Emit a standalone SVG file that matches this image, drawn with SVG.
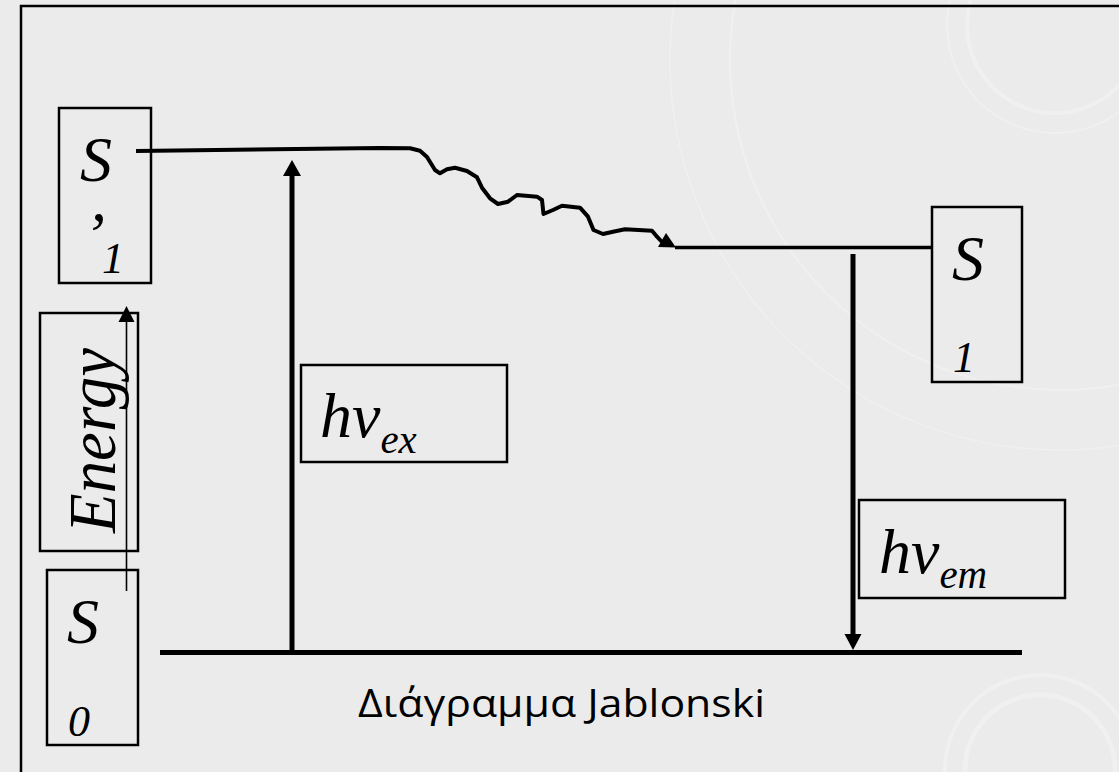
<svg xmlns="http://www.w3.org/2000/svg" width="1119" height="772" viewBox="0 0 1119 772">
  <defs>
    <style>
      .box { fill: none; stroke: #000; stroke-width: 2.5; }
      .sym { font-family: "Liberation Serif", "Times New Roman", serif; font-style: italic; fill: #000; }
      .big { font-size: 64px; }
      .idx { font-size: 44px; }
      .sub { font-size: 41px; }
      .level { fill: none; stroke: #000; stroke-linecap: butt; }
      .head { fill: #000; stroke: none; }
      .wm { fill: none; stroke: #ffffff; stroke-opacity: 0.25; }
    </style>
  </defs>

  <!-- page background and faint decorative rings -->
  <rect x="0" y="0" width="1119" height="772" fill="#ebebeb"/>
  <g id="watermark">
    <circle class="wm" cx="1055" cy="25" r="88" stroke-width="4"/>
    <circle class="wm" cx="1055" cy="25" r="108" stroke-width="2"/>
    <circle class="wm" cx="1040" cy="770" r="75" stroke-width="5"/>
    <circle class="wm" cx="1040" cy="770" r="95" stroke-width="4"/>
    <circle class="wm" cx="1060" cy="60" r="330" stroke-width="2"/>
    <circle class="wm" cx="1060" cy="60" r="390" stroke-width="1.5"/>
  </g>

  <!-- outer frame -->
  <rect x="21" y="6" width="1120" height="790" fill="none" stroke="#000" stroke-width="2.5"/>

  <!-- state boxes -->
  <g id="s1-prime">
    <rect class="box" x="59" y="108" width="92" height="175"/>
    <text class="sym big" x="80" y="181">S</text>
    <text class="sym big" x="91" y="221">,</text>
    <text class="sym idx" x="102" y="273">1</text>
  </g>

  <g id="energy">
    <rect class="box" x="40" y="313" width="98" height="238"/>
    <text class="sym" font-size="68" x="115" y="533" textLength="185" lengthAdjust="spacingAndGlyphs" transform="rotate(-90 115 533)">Energy</text>
  </g>

  <g id="s0">
    <rect class="box" x="47" y="570" width="91" height="175"/>
    <text class="sym big" x="67" y="643">S</text>
    <text class="sym idx" x="68" y="736">0</text>
  </g>

  <g id="s1">
    <rect class="box" x="932" y="207" width="90" height="175"/>
    <text class="sym big" x="952" y="280">S</text>
    <text class="sym idx" x="953" y="372">1</text>
  </g>

  <g id="hv-ex">
    <rect class="box" x="301" y="365" width="206" height="97"/>
    <text class="sym" font-size="64" x="320" y="437">hv<tspan class="sub" dy="16">ex</tspan></text>
  </g>

  <g id="hv-em">
    <rect class="box" x="859" y="500" width="206" height="98"/>
    <text class="sym" font-size="64" x="879" y="573">hv<tspan class="sub" dy="15">em</tspan></text>
  </g>

  <!-- energy levels and transitions -->
  <g id="connectors">
    <!-- energy axis -->
    <line x1="126.5" y1="591" x2="126.5" y2="320" stroke="#000" stroke-width="1.6"/>
    <polygon class="head" points="118.5,322 134.5,322 126.5,306"/>

    <!-- ground state S0 -->
    <line class="level" x1="160" y1="652.5" x2="1022" y2="652.5" stroke-width="5"/>

    <!-- excited level S'1 and vibrational relaxation -->
    <path class="level" stroke-width="4" stroke-linejoin="round" stroke-linecap="round"
          d="M136,151 L380,148 L410,148.3 L420,150.7 L427,157 L435,170 L440,173.3 L447,169.3 L455,167.7 L467,171 L477,177.3 L482,187.7 L490,198.3 L498,204 L508,201.7 L517,195 L537,196.7 L542,200 L543.5,214 L553,210 L562,205.7 L580,207.7 L588,216.7 L593.5,230 L603,234 L613,231.7 L625,229.3 L652,230.7 L657,236.7 L662,242"/>
    <polygon class="head" points="658,247 676,247.5 666,233"/>

    <!-- relaxed level S1 -->
    <line class="level" x1="675" y1="247.5" x2="932" y2="247.5" stroke-width="3.5"/>

    <!-- absorption -->
    <line x1="292" y1="655" x2="292" y2="174" stroke="#000" stroke-width="5"/>
    <polygon class="head" points="283,176 301,176 292,160"/>

    <!-- emission -->
    <line x1="853" y1="254" x2="853" y2="636" stroke="#000" stroke-width="5"/>
    <polygon class="head" points="844.5,634 861.5,634 853,650"/>
  </g>

  <!-- caption -->
  <text id="caption" x="358" y="717" font-family="'Open Sans', 'Noto Sans', sans-serif" font-size="38" textLength="407" lengthAdjust="spacingAndGlyphs" fill="#000">Διάγραμμα Jablonski</text>
</svg>
